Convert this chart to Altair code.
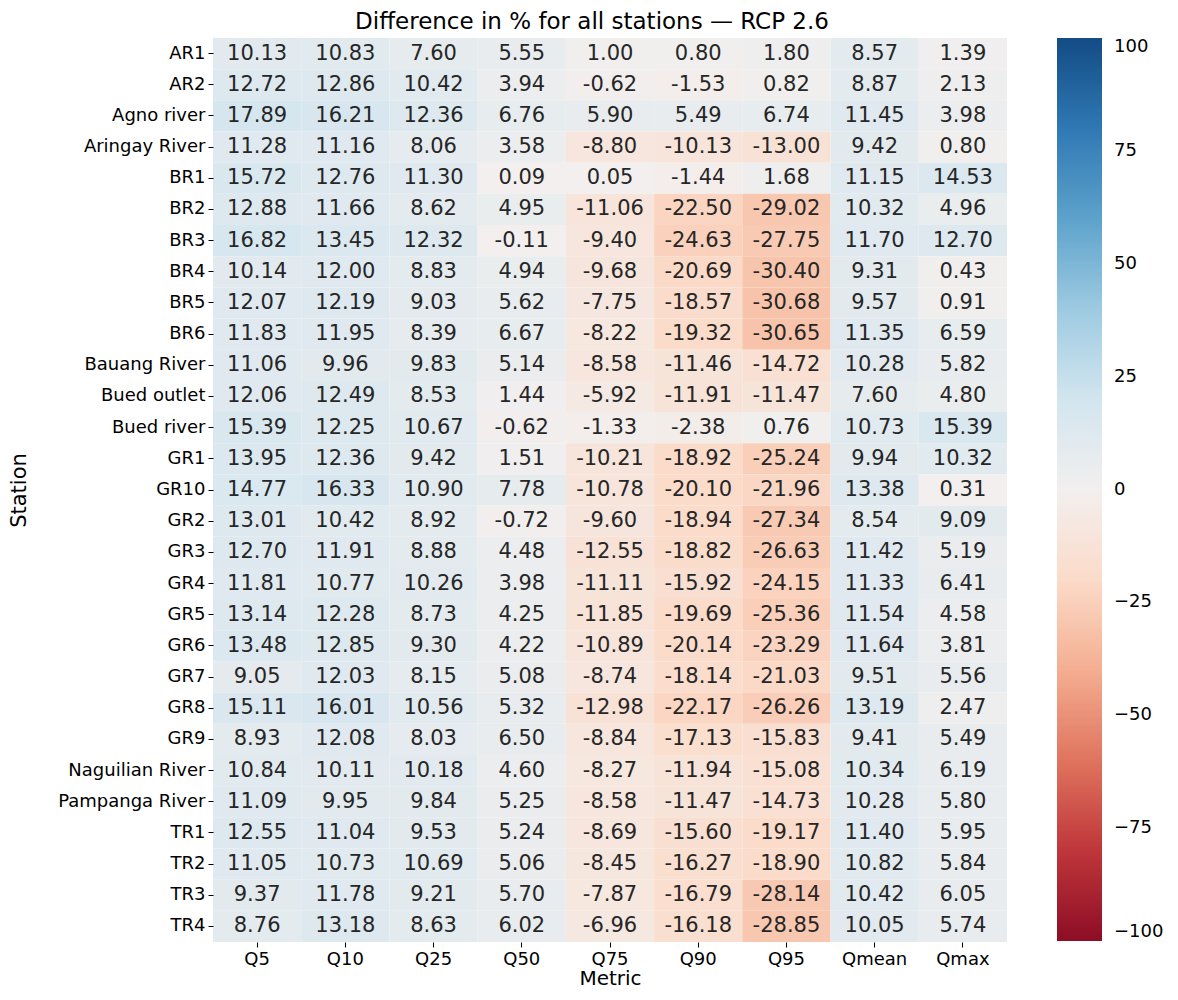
import altair as alt
import pandas as pd

stations = ["AR1", "AR2", "Agno river", "Aringay River", "BR1", "BR2", "BR3", "BR4", "BR5", "BR6",
            "Bauang River", "Bued outlet", "Bued river", "GR1", "GR10", "GR2", "GR3", "GR4", "GR5",
            "GR6", "GR7", "GR8", "GR9", "Naguilian River", "Pampanga River", "TR1", "TR2", "TR3", "TR4"]
metrics = ["Q5", "Q10", "Q25", "Q50", "Q75", "Q90", "Q95", "Qmean", "Qmax"]

values = [
    [10.13, 10.83, 7.60, 5.55, 1.00, 0.80, 1.80, 8.57, 1.39],
    [12.72, 12.86, 10.42, 3.94, -0.62, -1.53, 0.82, 8.87, 2.13],
    [17.89, 16.21, 12.36, 6.76, 5.90, 5.49, 6.74, 11.45, 3.98],
    [11.28, 11.16, 8.06, 3.58, -8.80, -10.13, -13.00, 9.42, 0.80],
    [15.72, 12.76, 11.30, 0.09, 0.05, -1.44, 1.68, 11.15, 14.53],
    [12.88, 11.66, 8.62, 4.95, -11.06, -22.50, -29.02, 10.32, 4.96],
    [16.82, 13.45, 12.32, -0.11, -9.40, -24.63, -27.75, 11.70, 12.70],
    [10.14, 12.00, 8.83, 4.94, -9.68, -20.69, -30.40, 9.31, 0.43],
    [12.07, 12.19, 9.03, 5.62, -7.75, -18.57, -30.68, 9.57, 0.91],
    [11.83, 11.95, 8.39, 6.67, -8.22, -19.32, -30.65, 11.35, 6.59],
    [11.06, 9.96, 9.83, 5.14, -8.58, -11.46, -14.72, 10.28, 5.82],
    [12.06, 12.49, 8.53, 1.44, -5.92, -11.91, -11.47, 7.60, 4.80],
    [15.39, 12.25, 10.67, -0.62, -1.33, -2.38, 0.76, 10.73, 15.39],
    [13.95, 12.36, 9.42, 1.51, -10.21, -18.92, -25.24, 9.94, 10.32],
    [14.77, 16.33, 10.90, 7.78, -10.78, -20.10, -21.96, 13.38, 0.31],
    [13.01, 10.42, 8.92, -0.72, -9.60, -18.94, -27.34, 8.54, 9.09],
    [12.70, 11.91, 8.88, 4.48, -12.55, -18.82, -26.63, 11.42, 5.19],
    [11.81, 10.77, 10.26, 3.98, -11.11, -15.92, -24.15, 11.33, 6.41],
    [13.14, 12.28, 8.73, 4.25, -11.85, -19.69, -25.36, 11.54, 4.58],
    [13.48, 12.85, 9.30, 4.22, -10.89, -20.14, -23.29, 11.64, 3.81],
    [9.05, 12.03, 8.15, 5.08, -8.74, -18.14, -21.03, 9.51, 5.56],
    [15.11, 16.01, 10.56, 5.32, -12.98, -22.17, -26.26, 13.19, 2.47],
    [8.93, 12.08, 8.03, 6.50, -8.84, -17.13, -15.83, 9.41, 5.49],
    [10.84, 10.11, 10.18, 4.60, -8.27, -11.94, -15.08, 10.34, 6.19],
    [11.09, 9.95, 9.84, 5.25, -8.58, -11.47, -14.73, 10.28, 5.80],
    [12.55, 11.04, 9.53, 5.24, -8.69, -15.60, -19.17, 11.40, 5.95],
    [11.05, 10.73, 10.69, 5.06, -8.45, -16.27, -18.90, 10.82, 5.84],
    [9.37, 11.78, 9.21, 5.70, -7.87, -16.79, -28.14, 10.42, 6.05],
    [8.76, 13.18, 8.63, 6.02, -6.96, -16.18, -28.85, 10.05, 5.74],
]

legend_ticks = [-100, -75, -50, -25, 0, 25, 50, 75, 100]

rows = []
for s, vals in zip(stations, values):
    for m, v in zip(metrics, vals):
        rows.append({"Station": s, "Metric": m, "value": v, "label": f"{v:.2f}"})
df = pd.DataFrame(rows)

FONT = "DejaVu Sans"

base = alt.Chart(df).encode(
    x=alt.X("Metric:N", sort=metrics, title="Metric",
            axis=alt.Axis(labelAngle=0, labelFontSize=18, titleFontSize=20, domain=False,
                          tickSize=5, labelPadding=3, titlePadding=0, labelColor="#000",
                          titleColor="#000", titleFontWeight="normal", tickColor="#000")),
    y=alt.Y("Station:N", sort=stations, title="Station",
            axis=alt.Axis(labelFontSize=18, titleFontSize=21, domain=False, tickSize=5,
                          labelPadding=3, titlePadding=28, labelColor="#000",
                          titleColor="#000", titleFontWeight="normal", tickColor="#000")),
)

rect = base.mark_rect().encode(
    color=alt.Color("value:Q", scale=alt.Scale(scheme="redblue", domain=[-100, 100]),
                    legend=alt.Legend(title=None, values=legend_ticks, gradientLength=903,
                                      gradientThickness=45, labelFontSize=18, offset=50,
                                      labelColor="#000", direction="vertical",
                                      gradientStrokeWidth=0, labelOffset=12)),
)

text = base.mark_text(fontSize=21, color="#262626", font=FONT).encode(
    text=alt.Text("label:N")
)

chart = (rect + text).properties(
    width=794, height=904,
    padding={"left": 0, "top": 3, "right": 0, "bottom": 0},
    title=alt.TitleParams("Difference in % for all stations — RCP 2.6", fontSize=23,
                          fontWeight="normal", color="#000", offset=4, font=FONT, dx=-18),
).configure(font=FONT).configure_view(stroke=None).configure_scale(bandPaddingInner=0)

chart.save("out.html", embed_options={"renderer": "svg", "actions": False})
